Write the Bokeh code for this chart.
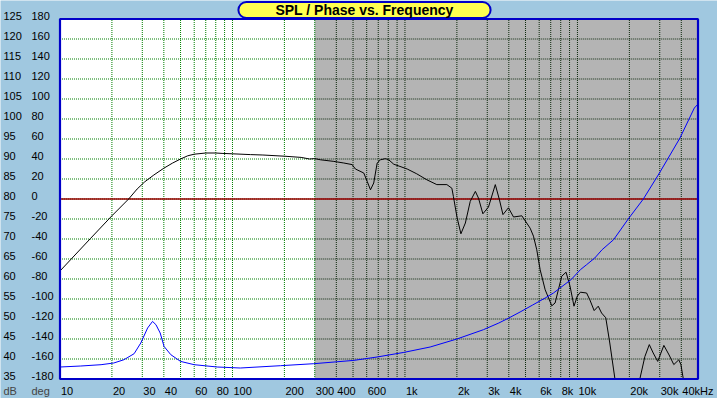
import math
from bokeh.plotting import figure
from bokeh.models import Range1d, Label, LabelSet, ColumnDataSource
from bokeh.core.properties import value
from bokeh.embed import file_html
from bokeh.resources import INLINE

# ---------------- data ----------------
title_text = "SPL / Phase vs. Frequency"

spl_freq = [10, 15, 20, 25, 28, 31, 35, 40, 45, 50,
            55, 60, 70, 80, 87, 100, 127, 150, 200, 250,
            280, 300, 324, 387, 442,
            494, 516, 577, 604, 631, 659, 690, 721, 771, 805,
            861, 1030, 1170, 1340, 1530, 1750, 1870, 1910, 2000, 2110,
            2240, 2390, 2560, 2670, 2830, 3050, 3340, 3530, 3700, 3980,
            4260, 4760, 5320, 5560, 5810, 6080, 6500, 7100, 7420, 8110,
            8590, 9060, 9550, 9980, 10400, 11300, 11800, 12500, 13200, 13800,
            14600, 15400, 16500, 23000, 24600, 26100, 27500, 29200, 31700, 34000,
            36200, 38700, 39800, 41100, 50000]
spl_db = [62.0, 70.1, 75.8, 80.0, 82.5, 84.3, 86.0, 87.7, 89.0, 90.0,
          90.8, 91.2, 91.5, 91.5, 91.4, 91.3, 91.1, 91.0, 90.7, 90.4,
          90.0, 90.1, 89.8, 89.4, 89.0,
          88.6, 87.5, 86.5, 84.4, 82.3, 84.0, 89.0, 89.8, 90.1, 89.8,
          88.7, 87.5, 86.3, 84.8, 83.6, 83.6, 82.7, 80.6, 75.6, 71.3,
          74.0, 79.4, 81.9, 80.2, 76.3, 78.0, 83.6, 79.8, 76.1, 77.8,
          75.5, 75.8, 72.7, 70.7, 67.3, 62.3, 57.3, 53.3, 54.0, 60.7,
          61.7, 58.2, 53.2, 55.7, 56.7, 56.5, 54.8, 52.1, 53.2, 51.5,
          50.3, 44.0, 35.0, 35.0, 40.6, 43.6, 41.5, 39.4, 43.4, 41.0,
          38.6, 39.8, 38.6, 35.0, 35.0]

phase_freq = [10, 13.2, 17.3, 20.5, 23.5, 26.9, 29.4, 32.2, 34.4, 36,
              38.1, 40.1, 43.9, 50, 60, 81.6, 111, 190, 296, 505,
              690, 985, 1400, 2000, 2850, 3500, 4000, 4650, 5500, 6500,
              7260, 9200, 10400, 11300, 12600, 13900, 16200, 19700, 24100, 29400,
              33100, 39300, 47600, 50000]
phase_deg = [-168, -167, -165.7, -164, -160.7, -154.7, -144, -129, -122.4, -125.7,
             -134, -147.4, -155.7, -162.4, -165.7, -168, -169, -166.7, -164.7, -161.4,
             -158, -153.4, -148, -140, -130.7, -124, -119, -113, -106, -99,
             -94, -80.5, -70.7, -65.7, -59, -50.7, -40.7, -20, 0, 24,
             39, 61, 91, 95]

x_grid_ticks = [20, 30, 40, 50, 60, 70, 80, 90, 100, 200, 300, 400, 500, 600,
                700, 800, 900, 1000, 2000, 3000, 4000, 5000, 6000, 7000, 8000,
                9000, 10000, 20000, 30000, 40000]
x_tick_values = [10, 20, 30, 40, 60, 80, 100, 200, 300, 400, 600, 1000, 2000,
                 3000, 4000, 6000, 8000, 10000, 20000, 30000, 40000]
x_tick_labels = ["10", "20", "30", "40", "60", "80", "100", "200", "300", "400",
                 "600", "1k", "2k", "3k", "4k", "6k", "8k", "10k", "20k", "30k",
                 "40kHz"]
db_ticks = [35, 40, 45, 50, 55, 60, 65, 70, 75, 80, 85, 90, 95, 100, 105, 110,
            115, 120, 125]
deg_ticks = [-180, -160, -140, -120, -100, -80, -60, -40, -20, 0, 20, 40, 60,
             80, 100, 120, 140, 160, 180]

f_min, f_max = 10, 50000
db_min, db_max = 35, 125
deg_min, deg_max = -180, 180
shade_start = 300      # shaded (grey) frequency band starts here
zero_line_db = 80

# ---------------- layout (pixels) ----------------
W, H = 717, 398
PL, PR = 59.5, 697.5     # plot box left/right edge on canvas
PT, PB = 18.5, 378.5     # plot box top/bottom edge on canvas

# canvas-wide ranges so the plot box lands on the pixel edges above
dec = math.log10(f_max) - math.log10(f_min)
ppd = (PR - PL) / dec
x_lo = 10 ** (math.log10(f_min) - PL / ppd)
x_hi = 10 ** (math.log10(f_max) + (W - PR) / ppd)
ppu = (PB - PT) / (db_max - db_min)
y_lo = db_min - (H - PB) / ppu
y_hi = db_max + PT / ppu
k = (deg_max - deg_min) / (db_max - db_min)
deg_lo = deg_min + (y_lo - db_min) * k
deg_hi = deg_min + (y_hi - db_min) * k

# ---------------- style ----------------
BG = "#a0c8e0"
FRAME_BLUE = "#0000c8"
GRID_GREEN = "#008000"
GRID_DARK = "#0c280c"
SHADE = "#b4b4b4"
FONT = "Liberation Sans"

p = figure(width=W, height=H, x_axis_type="log",
           x_range=Range1d(x_lo, x_hi), y_range=Range1d(y_lo, y_hi),
           x_axis_location=None, y_axis_location=None,
           output_backend="svg", toolbar_location=None,
           min_border=0, background_fill_color=BG, border_fill_color=BG,
           outline_line_color=None)
p.grid.visible = False
p.extra_y_ranges = {"deg": Range1d(deg_lo, deg_hi)}

# plot area backgrounds
p.quad(left=[f_min], right=[shade_start], bottom=[db_min], top=[db_max],
       fill_color="white", line_color=None)
p.quad(left=[shade_start], right=[f_max], bottom=[db_min], top=[db_max],
       fill_color=SHADE, line_color=None)

# grid lines: green on white, dark on grey
vg = [f for f in x_grid_ticks if f <= shade_start]
vd = [f for f in x_grid_ticks if f > shade_start]
hy = db_ticks[1:-1]
p.segment(x0=vg, x1=vg, y0=[db_min] * len(vg), y1=[db_max] * len(vg),
          line_color=GRID_GREEN, line_dash="1 1", line_width=1)
p.segment(x0=[f_min] * len(hy), x1=[shade_start] * len(hy), y0=hy, y1=hy,
          line_color=GRID_GREEN, line_dash="1 1", line_width=1)
p.segment(x0=vd, x1=vd, y0=[db_min] * len(vd), y1=[db_max] * len(vd),
          line_color=GRID_DARK, line_dash="1 1", line_width=1)
p.segment(x0=[shade_start] * len(hy), x1=[f_max] * len(hy), y0=hy, y1=hy,
          line_color=GRID_DARK, line_dash="1 1", line_width=1)

# 0 deg / 80 dB reference line
p.segment(x0=[f_min], x1=[f_max], y0=[zero_line_db], y1=[zero_line_db],
          line_color="#9a0000", line_width=1.3)

# curves
p.line(spl_freq, spl_db, line_color="black", line_width=1)
p.line(phase_freq, phase_deg, y_range_name="deg", line_color="#0000ff",
       line_width=1)

# plot box border
p.quad(left=[f_min], right=[f_max], bottom=[db_min], top=[db_max],
       fill_color=None, line_color=FRAME_BLUE, line_width=2.2)

# tick labels
db_src = ColumnDataSource(dict(y=db_ticks, text=[str(v) for v in db_ticks]))
p.add_layout(LabelSet(source=db_src, x=3, x_units="screen", y="y", text="text",
                      text_align="left", text_baseline="middle", y_offset=3,
                      text_font=value(FONT), text_font_size="11px",
                      text_color="black"))
deg_src = ColumnDataSource(dict(y=deg_ticks, text=[str(v) for v in deg_ticks]))
p.add_layout(LabelSet(source=deg_src, x=31, x_units="screen", y="y",
                      y_range_name="deg", text="text",
                      text_align="left", text_baseline="middle", y_offset=3,
                      text_font=value(FONT), text_font_size="11px",
                      text_color="black"))
x_src = ColumnDataSource(dict(x=x_tick_values, text=x_tick_labels))
p.add_layout(LabelSet(source=x_src, x="x", y=8, y_units="screen", text="text",
                      text_align="left", text_baseline="middle", x_offset=1,
                      text_font=value(FONT), text_font_size="11px",
                      text_color="black"))

p.add_layout(Label(x=3, y=8, x_units="screen", y_units="screen", text="dB",
                   text_align="left", text_baseline="middle",
                   text_font=FONT, text_font_size="11px"))
p.add_layout(Label(x=31, y=8, x_units="screen", y_units="screen", text="deg",
                   text_align="left", text_baseline="middle",
                   text_font=FONT, text_font_size="11px"))

# title box
p.add_layout(Label(x=364, y=H - 9.5, x_units="screen", y_units="screen",
                   text=title_text, text_align="center", text_baseline="middle",
                   text_font=FONT, text_font_size="14px", text_font_style="bold",
                   text_color="black",
                   background_fill_color="#ffff50",
                   border_line_color=FRAME_BLUE, border_line_width=2,
                   padding=(37, 0), border_radius=8))

open("out.html", "w").write(file_html(p, INLINE))
